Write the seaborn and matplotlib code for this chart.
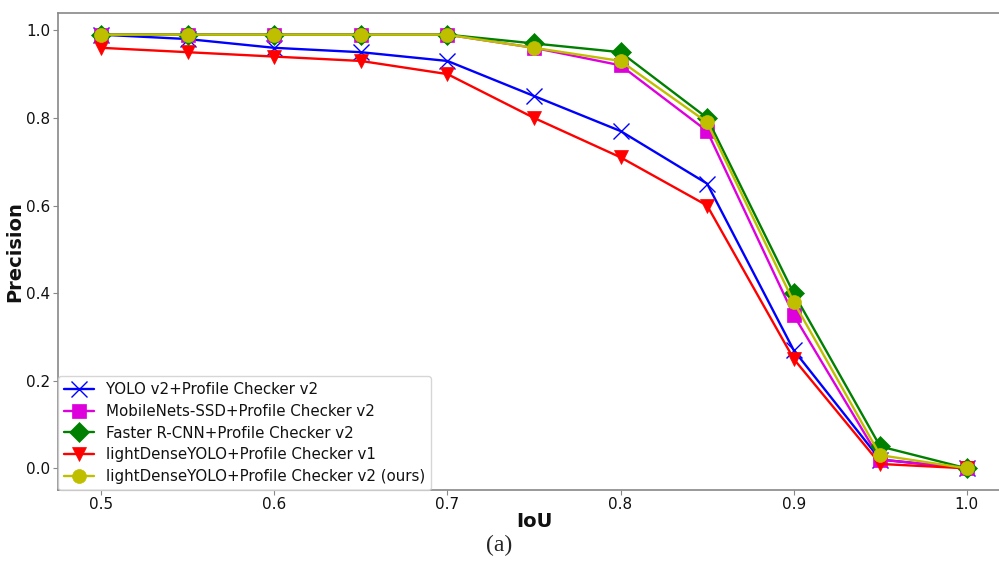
import matplotlib
matplotlib.use("Agg")
import matplotlib.pyplot as plt
import seaborn as sns
import pandas as pd

iou = [0.5, 0.55, 0.6, 0.65, 0.7, 0.75, 0.8, 0.85, 0.9, 0.95, 1.0]
yolo_v2 = [0.99, 0.98, 0.96, 0.95, 0.93, 0.85, 0.77, 0.65, 0.27, 0.02, 0.0]
mobilenets = [0.99, 0.99, 0.99, 0.99, 0.99, 0.96, 0.92, 0.77, 0.35, 0.02, 0.0]
faster_rcnn = [0.99, 0.99, 0.99, 0.99, 0.99, 0.97, 0.95, 0.80, 0.40, 0.05, 0.0]
ld_v1 = [0.96, 0.95, 0.94, 0.93, 0.90, 0.80, 0.71, 0.60, 0.25, 0.01, 0.0]
ld_v2 = [0.99, 0.99, 0.99, 0.99, 0.99, 0.96, 0.93, 0.79, 0.38, 0.03, 0.0]

names = ["YOLO v2+Profile Checker v2",
         "MobileNets-SSD+Profile Checker v2",
         "Faster R-CNN+Profile Checker v2",
         "lightDenseYOLO+Profile Checker v1",
         "lightDenseYOLO+Profile Checker v2 (ours)"]
series = [yolo_v2, mobilenets, faster_rcnn, ld_v1, ld_v2]
colors = ["#0000ff", "#dd00dd", "#008000", "#ff0000", "#bfbf00"]
markers = ["x", "s", "D", "v", "o"]

rows = []
for n, s in zip(names, series):
    for x, y in zip(iou, s):
        rows.append({"IoU": x, "Precision": y, "Model": n})
df = pd.DataFrame(rows)

sns.set_style("ticks")
fig = plt.figure(figsize=(9.99, 5.69), dpi=100)
ax = fig.add_axes([58 / 999, 79 / 569, 952 / 999, 477 / 569])

for n, c, m in zip(names, colors, markers):
    sub = df[df["Model"] == n]
    sns.lineplot(data=sub, x="IoU", y="Precision", ax=ax, color=c, marker=m,
                 markersize=10 if m != "x" else 11, linewidth=1.7,
                 markeredgecolor=c, markeredgewidth=1.0 if m == "x" else 0.5,
                 label=n)

ax.set_xlim(0.475, 1.025)
ax.set_ylim(-0.0495, 1.0395)
ax.set_xticks([0.5, 0.6, 0.7, 0.8, 0.9, 1.0])
ax.set_yticks([0.0, 0.2, 0.4, 0.6, 0.8, 1.0])
ax.tick_params(labelsize=11, direction="out", length=3.5, colors="#888888",
               labelcolor="#111111")
ax.tick_params(axis="x", pad=1.5)
ax.tick_params(axis="y", pad=2)
ax.set_xlabel("IoU", fontsize=14, fontweight="bold", labelpad=0, color="#111111")
ax.set_ylabel("Precision", fontsize=14, fontweight="bold", labelpad=1, color="#111111")
for sp in ax.spines.values():
    sp.set_visible(True)
    sp.set_color("#888888")
    sp.set_linewidth(1.2)

leg = ax.legend(loc="lower left", fontsize=10.8, frameon=True, borderaxespad=0.0,
                handlelength=2.0, labelspacing=0.45)
leg.get_frame().set_edgecolor("#cccccc")
for t in leg.get_texts():
    t.set_color("#111111")

fig.text(0.5, 0.042, "(a)", ha="center", va="center", fontsize=17,
         family="Liberation Serif")

fig.savefig("out.png", dpi=100)
